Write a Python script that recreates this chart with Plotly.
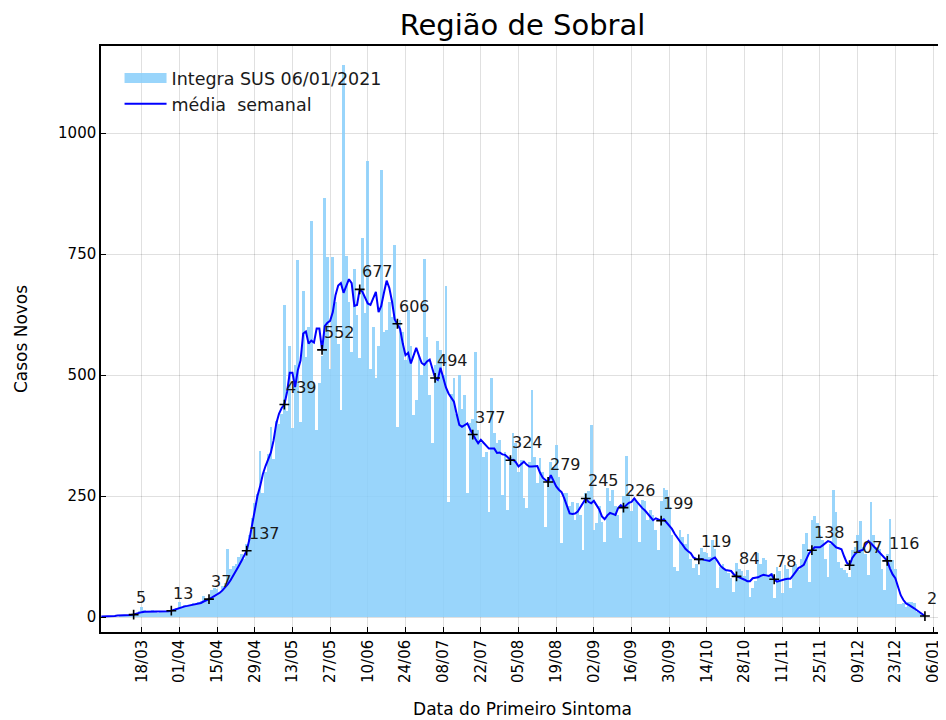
import pandas as pd
import plotly.graph_objects as go

# ---------------- data ----------------
start_date = "2020-03-03"

casos_diarios = [
    1, 0, 2, 1, 2, 3, 1, 3, 4, 2, 5, 4, 6,
    9, 12, 20, 14, 10, 12, 15, 11, 9, 13, 10, 12, 14, 11,
    16, 18, 30, 20, 24, 25, 22, 28, 26, 30, 34, 43, 38, 36,
    55, 60, 58, 52, 65, 70, 140, 100, 105, 110, 125, 130, 120, 150,
    170, 205, 235, 254, 343, 257, 300, 337, 393, 326, 405, 399, 420, 645,
    425, 560, 391, 520, 737, 403, 674, 537, 600, 818, 484, 387, 484, 540,
    866, 744, 513, 744, 650, 564, 428, 1141, 747, 651, 548, 720, 624, 536,
    783, 628, 942, 513, 600, 494, 560, 923, 590, 593, 650, 620, 768, 393,
    613, 590, 531, 634, 560, 417, 448, 540, 500, 739, 579, 459, 359, 520,
    570, 552, 500, 684, 238, 460, 494, 420, 500, 430, 459, 256, 400, 410,
    548, 386, 360, 331, 340, 218, 494, 380, 359, 366, 252, 340, 221, 330,
    380, 360, 300, 324, 246, 225, 320, 469, 331, 277, 328, 300, 187, 290,
    321, 310, 355, 290, 153, 256, 256, 230, 238, 200, 235, 210, 138, 256,
    260, 397, 180, 194, 230, 197, 156, 267, 240, 262, 230, 210, 163, 250,
    333, 256, 220, 246, 240, 154, 242, 240, 200, 221, 210, 180, 138, 240,
    266, 262, 228, 170, 103, 95, 180, 166, 150, 171, 120, 101, 110, 87,
    142, 135, 132, 125, 159, 140, 60, 104, 110, 97, 90, 80, 52, 111,
    100, 96, 85, 97, 42, 60, 75, 133, 110, 122, 118, 87, 90, 39,
    104, 95, 49, 107, 100, 60, 104, 110, 97, 120, 150, 174, 73, 200,
    209, 194, 170, 159, 120, 83, 150, 262, 218, 114, 101, 97, 90, 83,
    138, 145, 170, 199, 145, 130, 87, 238, 169, 145, 140, 100, 56, 130,
    202, 118, 100, 27, 27, 28, 21, 30, 30, 28, 11, 8, 5, 2,
]

media_semanal = [
    1, 1, 2, 2, 2, 2, 3, 3, 3, 4, 4, 4, 5,
    7, 9, 10, 11, 11, 12, 12, 11, 11, 11, 12, 12, 12, 13,
    15, 17, 19, 21, 22, 23, 24, 25, 27, 27, 29, 32, 34, 37,
    40, 43, 47, 50, 55, 61, 68, 76, 85, 95, 105, 115, 126, 137,
    160, 190, 215, 250, 270, 295, 312, 325, 340, 365, 400, 420, 432, 439,
    465, 505, 505, 475, 510, 530, 586, 590, 565, 571, 567, 596, 596, 552,
    601, 608, 612, 630, 665, 685, 690, 670, 685, 698, 690, 643, 645, 677,
    672, 660, 648, 645, 660, 672, 630, 643, 670, 695, 680, 652, 615, 606,
    595, 565, 541, 546, 524, 540, 556, 540, 525, 521, 528, 532, 515, 494,
    490, 515, 495, 475, 462, 452, 445, 420, 397, 393, 396, 400, 388, 377,
    368, 359, 366, 360, 353, 348, 348, 348, 339, 340, 336, 335, 330, 324,
    325, 320, 311, 316, 321, 315, 311, 311, 312, 312, 298, 288, 283, 279,
    293, 282, 270, 263, 258, 245, 228, 214, 213, 214, 218, 228, 238, 245,
    238, 235, 240, 232, 222, 208, 202, 210, 215, 213, 211, 225, 231, 226,
    232, 236, 238, 245, 238, 231, 225, 220, 214, 207, 200, 204, 202, 199,
    202, 195, 187, 182, 172, 163, 156, 149, 141, 136, 132, 123, 120, 119,
    120, 118, 117, 116, 120, 123, 115, 106, 101, 97, 96, 95, 88, 84,
    82, 80, 77, 74, 74, 80, 81, 82, 85, 87, 86, 85, 88, 78,
    73, 75, 77, 78, 79, 79, 86, 93, 101, 104, 108, 120, 132, 138,
    144, 144, 144, 148, 152, 157, 155, 150, 144, 142, 140, 125, 112, 107,
    122, 130, 135, 137, 139, 150, 157, 152, 146, 140, 136, 129, 124, 116,
    100, 88, 80, 62, 45, 35, 28, 25, 22, 18, 14, 10, 6, 2,
]

marker_first_index = 12
marker_step = 14

tick_start = "2020-03-18"
tick_end = "2021-01-06"
y_ticks = [0, 250, 500, 750, 1000]

titulo = "Região de Sobral"
nome_barras = "Integra SUS 06/01/2021"
nome_linha = "média\u00a0 semanal"
rotulo_x = "Data do Primeiro Sintoma"
rotulo_y = "Casos Novos"

# ---------------- figure ----------------
bar_dates = pd.date_range(start_date, periods=len(casos_diarios), freq="D")
line_dates = pd.date_range(start_date, periods=len(media_semanal), freq="D")

idx = list(range(marker_first_index, len(media_semanal), marker_step))
m_dates = [line_dates[i] for i in idx]
m_vals = [media_semanal[i] for i in idx]

tickvals = pd.date_range(tick_start, tick_end, freq="14D")
ticktext = [d.strftime("%d/%m") for d in tickvals]

FONT = "DejaVu Sans"
BAR_COLOR = "rgba(135,206,250,0.85)"

fig = go.Figure()
fig.add_trace(go.Bar(
    x=bar_dates, y=casos_diarios, name=nome_barras, showlegend=False,
    width=86400000, marker=dict(color=BAR_COLOR, line=dict(width=0)),
))
# legend entry drawn as a wide patch, like the reference
fig.add_trace(go.Scatter(
    x=[None], y=[None], name=nome_barras, mode="lines",
    line=dict(color=BAR_COLOR, width=15),
))
fig.add_trace(go.Scatter(
    x=line_dates, y=media_semanal, name=nome_linha, mode="lines",
    line=dict(color="#0000ff", width=2),
))
fig.add_trace(go.Scatter(
    x=m_dates, y=m_vals, mode="markers", showlegend=False,
    marker=dict(symbol="cross-thin", size=7, line=dict(color="black", width=1.6), color="black"),
))

for d, v in zip(m_dates, m_vals):
    fig.add_annotation(
        x=d, y=v, text=str(v), showarrow=False, xanchor="left", yanchor="bottom",
        xshift=0, yshift=6, font=dict(family=FONT, size=16, color="#1a1a1a"),
    )

fig.update_layout(
    width=946, height=720,
    margin=dict(l=93, r=10, t=38, b=96, autoexpand=False),
    paper_bgcolor="white", plot_bgcolor="white",
    bargap=0,
    font=dict(family=FONT, size=15, color="black"),
    title=dict(text=titulo, x=0.5, xref="paper", xanchor="center",
               y=1 - 16.5 / 720, yref="container", yanchor="middle",
               font=dict(family=FONT, size=29, color="black")),
    legend=dict(x=0.022, y=0.976, xanchor="left", yanchor="top",
                bgcolor="rgba(0,0,0,0)", font=dict(family=FONT, size=17.5, color="#1a1a1a"),
                tracegroupgap=0, itemwidth=42),
    showlegend=True,
)

fig.update_xaxes(
    range=["2020-03-02 21:00", "2021-01-10 02:00"],
    tickmode="array", tickvals=tickvals, ticktext=ticktext, tickangle=-90,
    ticks="inside", ticklen=5, tickcolor="black", tickwidth=1,
    showgrid=True, gridcolor="rgba(0,0,0,0.12)", gridwidth=1,
    showline=True, linecolor="black", linewidth=1.5, mirror=True,
    tickfont=dict(family=FONT, size=15, color="black"),
    title=dict(text=rotulo_x, standoff=21, font=dict(family=FONT, size=17, color="black")),
    zeroline=False, automargin=False,
)
fig.update_yaxes(
    range=[-31, 1180], tickvals=y_ticks,
    ticks="inside", ticklen=5, tickcolor="black", tickwidth=1,
    showgrid=True, gridcolor="rgba(0,0,0,0.12)", gridwidth=1,
    showline=True, linecolor="black", linewidth=1.5, mirror=True,
    tickfont=dict(family=FONT, size=15, color="black"),
    title=dict(text=rotulo_y, standoff=26, font=dict(family=FONT, size=17, color="black")),
    zeroline=False, automargin=False,
)

fig.write_html("out.html")
